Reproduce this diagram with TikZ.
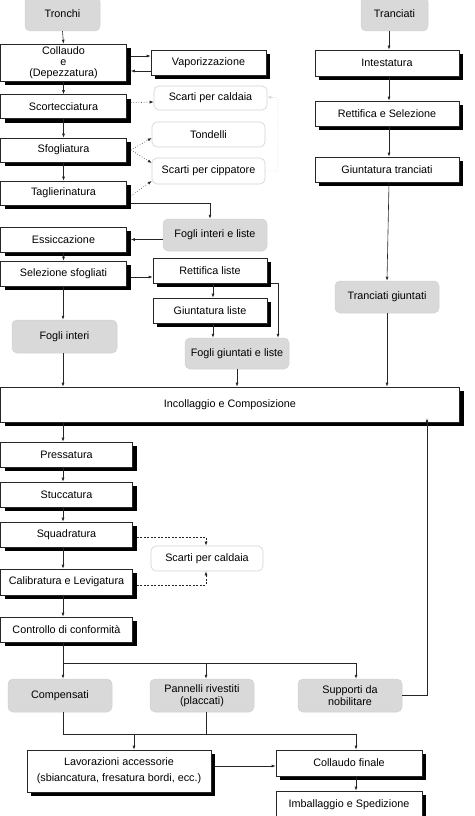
\documentclass[tikz,border=0pt]{standalone}
\usepackage{fontspec}
\setmainfont{Liberation Sans}
\usetikzlibrary{arrows.meta}
\definecolor{prodgray}{HTML}{D9D9D9}
\definecolor{wasteline}{HTML}{D2D2D2}
\tikzset{
    boxstyle/.style={draw=black!85, line width=0.6pt, fill=white, inner sep=1pt, align=center,
        font=\fontsize{10.8}{12}\selectfont},
    prodstyle/.style={draw=black!18, line width=0.5pt, fill=prodgray, rounded corners=5pt,
        inner sep=1pt, align=center, font=\fontsize{10.8}{12.5}\selectfont},
    wastestyle/.style={draw=wasteline, line width=0.6pt, fill=white, rounded corners=5pt,
        inner sep=1pt, align=center, font=\fontsize{10.8}{12}\selectfont},
    arrowstyle/.style={-{Latex[length=4pt,width=3pt]}, line width=0.6pt, black!85},
    linestyle/.style={line width=0.6pt, black!85},
    dotarrow/.style={arrowstyle, dotted},
    dasharrow/.style={arrowstyle, dashed, dash pattern=on 2pt off 1.5pt}
}
% process box with its black shadow: [options] name, x, y, width, height, text
\newcommand{\procnode}[7][]{%
    \fill[black] ({#3-#5/2+4},{#4-#6/2+4}) rectangle ({#3+#5/2+4},{#4+#6/2+4});
    \node[boxstyle, minimum width=#5pt, minimum height=#6pt, #1] (#2) at (#3,#4) {#7};
}
\begin{document}
\begin{tikzpicture}[x=1pt, y=-1pt]
    \useasboundingbox (0,0) rectangle (474,816);

    % --- columns for the connectors ---
    \coordinate (lcol) at (63,0);
    \coordinate (mcol) at (206,0);
    \coordinate (rcol) at (213,0);
    \coordinate (ecol) at (278,0);
    \coordinate (tcol) at (389,0);
    \coordinate (scol) at (356,0);
    \coordinate (ucol) at (427,0);
    \coordinate (lavcol) at (134,0);
    \coordinate (forkrow) at (0,663);
    \coordinate (joinrow) at (0,734);

    % ================= TRONCHI: left column =================
    \node[prodstyle, minimum width=75pt, minimum height=34pt] (tronchi) at (62.5,14) {Tronchi};
    \procnode[font=\fontsize{10.8}{11}\selectfont]{collaudo}{63.5}{62.5}{126}{37}{Collaudo\\e\\(Depezzatura)}
    \procnode{vapor}{208.5}{62.5}{115}{25}{Vaporizzazione}
    \procnode{scort}{63.5}{106.5}{126}{24}{Scortecciatura}
    \node[wastestyle, minimum width=113pt, minimum height=24pt] (scarti1) at (210.5,98) {Scarti per caldaia};
    \node[wastestyle, minimum width=113pt, minimum height=25pt] (tondelli) at (208.5,134.5) {Tondelli};
    \procnode{sfogl}{63.5}{150}{126}{24}{Sfogliatura}
    \node[wastestyle, minimum width=113pt, minimum height=26pt] (cipp) at (208.5,171) {Scarti per cippatore};
    \procnode{taglier}{63.5}{193}{126}{24}{Taglierinatura}
    \node[prodstyle, minimum width=104pt, minimum height=32pt] (fogliIL) at (215,235) {Fogli interi e liste};
    \procnode{essic}{63.5}{239.5}{126}{25}{Essiccazione}
    \procnode{selez}{63.5}{273.5}{126}{25}{Selezione sfogliati}
    \procnode{rettL}{210}{270.5}{114}{25}{Rettifica liste}
    \procnode{giuntL}{210}{310.5}{114}{25}{Giuntatura liste}
    \node[prodstyle, minimum width=104pt, minimum height=31pt] (fogliGL) at (237,353.5) {Fogli giuntati e liste};
    \node[prodstyle, minimum width=105pt, minimum height=33pt] (fogliI) at (64.5,336.5) {Fogli interi};

    % ================= TRANCIATI: right column =================
    \node[prodstyle, minimum width=67pt, minimum height=34pt] (tranciati) at (394.5,14) {Tranciati};
    \procnode{intest}{387}{63}{144}{26}{Intestatura}
    \procnode{rettS}{387}{113.5}{144}{25}{Rettifica e Selezione}
    \procnode{giuntT}{387}{169.5}{144}{25}{Giuntatura tranciati}
    \node[prodstyle, minimum width=104pt, minimum height=32pt] (trancG) at (387,297) {Tranciati giuntati};

    % ================= PANEL =================
    \procnode{incoll}{230}{404.5}{459}{35}{Incollaggio e Composizione}
    \procnode{press}{66.5}{454.5}{132}{25}{Pressatura}
    \procnode{stucc}{66.5}{494.5}{132}{25}{Stuccatura}
    \procnode{squad}{66.5}{534.5}{132}{25}{Squadratura}
    \procnode{calib}{66.5}{582}{132}{26}{Calibratura e Levigatura}
    \procnode{contr}{66.5}{629.5}{132}{25}{Controllo di conformità}
    \node[wastestyle, minimum width=112pt, minimum height=25pt] (scarti2) at (207,558.5) {Scarti per caldaia};
    \node[prodstyle, minimum width=104pt, minimum height=33pt] (compens) at (60,695.5) {Compensati};
    \node[prodstyle, minimum width=104pt, minimum height=33pt] (pannelli) at (202,695.5) {Pannelli rivestiti\\(placcati)};
    \node[prodstyle, minimum width=104pt, minimum height=33pt] (supporti) at (350,695.5) {Supporti da\\nobilitare};
    \procnode{lavor}{119}{771}{184}{42}{Lavorazioni accessorie\\[4pt](sbiancatura, fresatura bordi, ecc.)}
    \procnode{collF}{349}{763}{146}{26}{Collaudo finale}
    \procnode{imball}{349}{805}{146}{28}{Imballaggio e Spedizione}

    % --- Tronchi connectors ---
    \draw[arrowstyle] (tronchi.south) -- (collaudo.north);
    \draw[arrowstyle] ([xshift=4pt,yshift=6.5pt]collaudo.east) -- ([yshift=6.5pt]vapor.west);
    \draw[arrowstyle] ([yshift=-8.5pt]vapor.west) -- ([xshift=4pt,yshift=-8.5pt]collaudo.east);
    \draw[arrowstyle] (collaudo.south) -- (scort.north);
    \draw[dotarrow] ([xshift=4pt,yshift=4pt]scort.east) -- ([yshift=-4pt]scarti1.west);
    \draw[arrowstyle] (scort.south) -- (sfogl.north);
    \draw[dotarrow] ([xshift=4pt]sfogl.east) -- ([yshift=-3.5pt]tondelli.west);
    \draw[dotarrow] ([xshift=4pt]sfogl.east) -- ([yshift=8pt]cipp.west);
    \draw[dotarrow] ([xshift=4pt,yshift=-3pt]taglier.east) -- ([yshift=-10pt]cipp.west);
    \draw[dotarrow, wasteline] (cipp.east) -| (ecol |- scarti1.east) -- ([yshift=1pt]scarti1.east);
    \draw[arrowstyle] (sfogl.south) -- (taglier.north);
    \draw[arrowstyle] ([xshift=4pt,yshift=-10pt]taglier.east) -| ([xshift=-5pt]fogliIL.north);
    \draw[arrowstyle] (fogliIL.west |- essic.east) -- ([xshift=4pt]essic.east);
    \draw[arrowstyle] (essic.south) -- (selez.north);
    \draw[arrowstyle] ([xshift=4pt,yshift=-3.5pt]selez.east) -- ([yshift=-6.5pt]rettL.west);
    \draw[arrowstyle] (rettL.south -| rcol) -- (giuntL.north -| rcol);
    \draw[arrowstyle] (giuntL.south -| rcol) -- (fogliGL.north -| rcol);
    \draw[arrowstyle] ([xshift=4pt]rettL.south east) -| (fogliGL.north -| ecol);
    \draw[arrowstyle] (selez.south -| lcol) -- (fogliI.north -| lcol);
    \draw[arrowstyle] (fogliI.south -| lcol) -- (incoll.north -| lcol);
    \draw[arrowstyle] (fogliGL.south) -- (incoll.north -| fogliGL.south);

    % --- Tranciati connectors ---
    \draw[arrowstyle] (tranciati.south -| tcol) -- (intest.north -| tcol);
    \draw[arrowstyle] (intest.south -| tcol) -- (rettS.north -| tcol);
    \draw[arrowstyle] (rettS.south -| tcol) -- (giuntT.north -| tcol);
    \draw[arrowstyle] (giuntT.south -| tcol) -- (trancG.north);
    \draw[arrowstyle] (trancG.south) -- (incoll.north -| trancG.south);

    % --- Panel connectors ---
    \draw[arrowstyle] (incoll.south -| lcol) -- (press.north -| lcol);
    \draw[arrowstyle] (press.south -| lcol) -- (stucc.north -| lcol);
    \draw[arrowstyle] (stucc.south -| lcol) -- (squad.north -| lcol);
    \draw[arrowstyle] (squad.south -| lcol) -- (calib.north -| lcol);
    \draw[arrowstyle] (calib.south -| lcol) -- (contr.north -| lcol);
    \draw[dasharrow] ([xshift=4pt,yshift=-2.5pt]squad.east) -| (scarti2.north -| mcol);
    \draw[dasharrow] ([xshift=4pt,yshift=-3pt]calib.east) -| (scarti2.south -| mcol);
    \draw[arrowstyle] (contr.south -| lcol) -- (compens.north -| lcol);
    \draw[arrowstyle] (forkrow -| lcol) -| (pannelli.north -| mcol);
    \draw[arrowstyle] (forkrow -| mcol) -| (supporti.north -| scol);
    \draw[arrowstyle, shorten >=-4pt] (supporti.east) -| (incoll.south -| ucol);
    \draw[linestyle] (compens.south -| lcol) |- (joinrow -| scol);
    \draw[linestyle] (pannelli.south -| mcol) -- (joinrow -| mcol);
    \draw[arrowstyle] (joinrow -| lavcol) -- (lavor.north -| lavcol);
    \draw[arrowstyle] (joinrow -| scol) -- (collF.north -| scol);
    \draw[arrowstyle] ([xshift=4pt,yshift=5pt]lavor.east) -- ([yshift=-3pt]collF.west);
    \draw[arrowstyle] (collF.south -| scol) -- (imball.north -| scol);
\end{tikzpicture}
\end{document}
